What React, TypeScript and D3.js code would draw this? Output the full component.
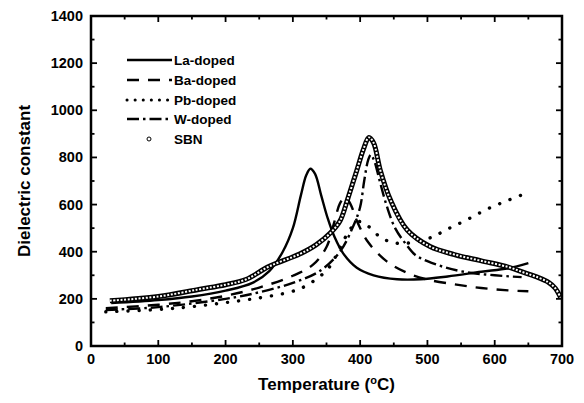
import React from "react";
import * as d3 from "d3";

type P = [number, number];

const laDoped: P[] = [
  [30, 182], [100, 195], [150, 210], [200, 235], [240, 268], [265, 318], [285, 400],
  [300, 500], [312, 640], [320, 725], [326, 752], [333, 730], [342, 640], [352, 540],
  [362, 462], [375, 392], [395, 332], [420, 300], [455, 283], [490, 283], [530, 295],
  [580, 315], [620, 330], [650, 352],
];
const baDoped: P[] = [
  [22, 160], [100, 175], [150, 190], [200, 213], [250, 248], [300, 298], [330, 345],
  [350, 420], [362, 530], [370, 605], [378, 632], [386, 600], [396, 525], [412, 440],
  [440, 358], [470, 310], [500, 282], [540, 262], [580, 246], [620, 236], [650, 232],
];
const pbDoped: P[] = [
  [22, 145], [100, 155], [150, 167], [200, 184], [250, 204], [296, 229], [316, 250],
  [333, 280], [353, 330], [370, 415], [385, 495], [398, 528], [412, 508], [430, 462],
  [450, 438], [475, 438], [507, 462], [527, 492], [546, 518], [567, 548], [586, 577],
  [606, 602], [625, 624], [644, 645],
];
const wDoped: P[] = [
  [22, 153], [100, 165], [200, 200], [250, 228], [300, 268], [340, 318], [370, 400],
  [390, 510], [400, 590], [406, 700], [412, 790], [416, 812], [421, 785], [430, 690],
  [440, 590], [452, 500], [467, 436], [482, 386], [500, 360], [527, 333], [560, 312],
  [600, 300], [640, 292],
];
const sbn: P[] = [
  [28, 192], [100, 210], [160, 240], [200, 260], [230, 282], [265, 338], [310, 390],
  [335, 430], [356, 480], [370, 530], [381, 619], [395, 745], [405, 835], [413, 885],
  [420, 862], [430, 745], [445, 620], [470, 492], [504, 422], [540, 388], [579, 362],
  [620, 335], [643, 312], [665, 290], [680, 270], [690, 245], [698, 205],
];

const xTicks = [0, 100, 200, 300, 400, 500, 600, 700];
const yTicks = [0, 200, 400, 600, 800, 1000, 1200, 1400];
const legendLabels = ["La-doped", "Ba-doped", "Pb-doped", "W-doped", "SBN"];

const W = 584, H = 403;
const left = 91, right = 562, top = 16, bottom = 346;

export default function App() {
  const x = d3.scaleLinear().domain([0, 700]).range([left, right]);
  const y = d3.scaleLinear().domain([0, 1400]).range([bottom, top]);
  const line = d3.line<P>().x(d => x(d[0])).y(d => y(d[1])).curve(d3.curveCatmullRom.alpha(0.5));
  const font = "'Liberation Sans', Arial, sans-serif";
  const xMinor = d3.range(0, 701, 50);
  const yMinor = d3.range(0, 1401, 100);

  const series = [
    { data: laDoped, dash: "", w: 2.4, cap: "butt" },
    { data: baDoped, dash: "12 9", w: 2.4, cap: "butt" },
    { data: pbDoped, dash: "0.1 11", w: 3.4, cap: "round" },
    { data: wDoped, dash: "12 4 2.5 4", w: 2.4, cap: "butt" },
  ];

  const legendY = [60, 80, 100, 119, 139];
  const legendDash = ["", "12 9", "0.1 8", "12 4 2.5 4"];

  return (
    <svg width={W} height={H} style={{ position: "absolute", left: 0, top: 0, background: "#fff" }}>
      <rect width={W} height={H} fill="#fff" />
      {series.map((s, i) => (
        <path key={i} d={line(s.data) || ""} fill="none" stroke="#000" strokeWidth={s.w}
          strokeDasharray={s.dash || undefined} strokeLinecap={s.cap as any} />
      ))}
      <path d={line(sbn) || ""} fill="none" stroke="#000" strokeWidth={5} />
      <path d={line(sbn) || ""} fill="none" stroke="#fff" strokeWidth={2} strokeDasharray="2 1.6" />

      <rect x={left} y={top} width={right - left} height={bottom - top} fill="none" stroke="#000" strokeWidth={2.5} />
      {xMinor.map(v => {
        const major = v % 100 === 0;
        const len = major ? 6 : 3.5;
        return (
          <g key={"x" + v}>
            <line x1={x(v)} x2={x(v)} y1={bottom} y2={bottom - len} stroke="#000" strokeWidth={1.8} />
            <line x1={x(v)} x2={x(v)} y1={top} y2={top + len} stroke="#000" strokeWidth={1.8} />
          </g>
        );
      })}
      {yMinor.map(v => {
        const major = v % 200 === 0;
        const len = major ? 6 : 3.5;
        return (
          <g key={"y" + v}>
            <line x1={left} x2={left + len} y1={y(v)} y2={y(v)} stroke="#000" strokeWidth={1.8} />
            <line x1={right} x2={right - len} y1={y(v)} y2={y(v)} stroke="#000" strokeWidth={1.8} />
          </g>
        );
      })}
      {xTicks.map(v => (
        <text key={"xt" + v} x={x(v)} y={bottom + 18} textAnchor="middle" fontFamily={font}
          fontWeight="bold" fontSize={14.5}>{v}</text>
      ))}
      {yTicks.map(v => (
        <text key={"yt" + v} x={left - 8} y={y(v) + 5} textAnchor="end" fontFamily={font}
          fontWeight="bold" fontSize={14.5}>{v}</text>
      ))}
      <text x={(left + right) / 2} y={390} textAnchor="middle" fontFamily={font} fontWeight="bold" fontSize={17}>
        Temperature (<tspan fontSize={11} dy={-6}>o</tspan><tspan dy={6}>C)</tspan>
      </text>
      <text transform={`translate(30, ${(top + bottom) / 2}) rotate(-90)`} textAnchor="middle"
        fontFamily={font} fontWeight="bold" fontSize={17}>Dielectric constant</text>

      {legendLabels.map((lab, i) => (
        <g key={lab}>
          {i < 4 ? (
            <line x1={127} x2={172} y1={legendY[i]} y2={legendY[i]} stroke="#000" strokeWidth={i === 2 ? 3 : 2.4}
              strokeDasharray={legendDash[i] || undefined} strokeLinecap={i === 2 ? "round" : "butt"} />
          ) : (
            <circle cx={149} cy={legendY[i]} r={2} fill="#fff" stroke="#000" strokeWidth={1} />
          )}
          <text x={174} y={legendY[i] + 5} fontFamily={font} fontWeight="bold" fontSize={13.5}>{lab}</text>
        </g>
      ))}
    </svg>
  );
}
